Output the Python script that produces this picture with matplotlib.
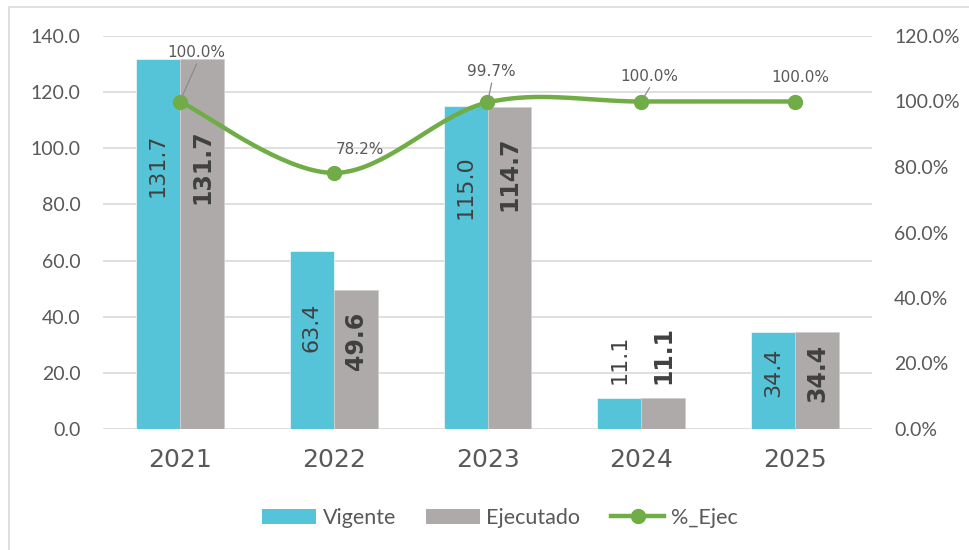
import numpy as np
import matplotlib
matplotlib.use("Agg")
import matplotlib.pyplot as plt
from matplotlib.patches import Rectangle, Patch
from matplotlib.lines import Line2D
from matplotlib.ticker import FuncFormatter, MultipleLocator

# ---- data ----
years = ["2021", "2022", "2023", "2024", "2025"]
vigente = [131.7, 63.4, 115.0, 11.1, 34.4]
ejecutado = [131.7, 49.6, 114.7, 11.1, 34.4]
pct_ejec = [100.0, 78.2, 99.7, 100.0, 100.0]

# ---- layout (label placement, not data) ----
vig_label_y = [94.0, 36.3, 86.2, 24.8, 20.1]
eje_label_y = [93.3, 31.3, 90.8, 26.4, 19.8]
pct_offsets = [(12, 35), (19, 17), (3, 22), (6, 18), (4, 17)]
pct_leader = [True, False, True, True, False]

C_VIG = "#56C4D8"
C_EJE = "#AEAAAA"
C_LINE = "#70AD47"
C_TXT = "#595959"
C_LBL = "#404040"
C_GRID = "#D9D9D9"

fig = plt.figure(figsize=(9.69, 5.5), dpi=100)
ax = fig.add_axes([103/969, 1-429/550, (872-103)/969, (429-36)/550])
ax2 = ax.twinx()

x = np.arange(len(years))
w = 0.286
ax.bar(x - w/2, vigente, w, color=C_VIG, edgecolor="#E8F6F9", linewidth=0.6, zorder=2)
ax.bar(x + w/2, ejecutado, w, color=C_EJE, edgecolor="#D0CECE", linewidth=0.6, zorder=2)

ax.set_xlim(-0.5, len(years) - 0.5)
ax.set_ylim(0, 140)
ax.yaxis.set_major_locator(MultipleLocator(20))
ax.yaxis.set_major_formatter(FuncFormatter(lambda v, p: f"{v:.1f}"))
ax.grid(axis="y", color=C_GRID, linewidth=1.2, zorder=0)
ax.set_axisbelow(True)
for s in ax.spines.values():
    s.set_visible(False)
for s in ax2.spines.values():
    s.set_visible(False)
ax.tick_params(axis="both", length=0)
ax.tick_params(axis="y", labelsize=14, labelcolor=C_TXT, pad=16)
ax.set_xticks(x)
ax.set_xticklabels(years, fontsize=18, color=C_TXT, family="DejaVu Sans")
ax.tick_params(axis="x", pad=14)
for lab in ax.get_yticklabels():
    lab.set_family("Lato")

# bar labels
for i in range(len(years)):
    ax.text(x[i] - w/2, vig_label_y[i], f"{vigente[i]:.1f}", rotation=90,
            ha="center", va="center", fontsize=16, color=C_LBL, zorder=5)
    ax.text(x[i] + w/2, eje_label_y[i], f"{ejecutado[i]:.1f}", rotation=90,
            ha="center", va="center", fontsize=17, fontweight="bold", color=C_LBL, zorder=5)

# smooth line (Excel-like Catmull-Rom / Bezier)
ax2.set_ylim(0, 120)
ax2.yaxis.set_major_locator(MultipleLocator(20))
ax2.yaxis.set_major_formatter(FuncFormatter(lambda v, p: f"{v:.1f}%"))
ax2.tick_params(axis="y", length=0, labelsize=14, labelcolor=C_TXT, pad=16)
for lab in ax2.get_yticklabels():
    lab.set_family("Lato")

px = x.astype(float)
py = np.array(pct_ejec, dtype=float)
n = len(px)
xs, ys = [], []
t = np.linspace(0, 1, 40)
for i in range(n - 1):
    p0 = np.array([px[max(i-1, 0)], py[max(i-1, 0)]])
    p1 = np.array([px[i], py[i]])
    p2 = np.array([px[i+1], py[i+1]])
    p3 = np.array([px[min(i+2, n-1)], py[min(i+2, n-1)]])
    c1 = p1 + (p2 - p0) / 6.0
    c2 = p2 - (p3 - p1) / 6.0
    b = ((1-t)**3)[:, None]*p1 + (3*(1-t)**2*t)[:, None]*c1 + (3*(1-t)*t**2)[:, None]*c2 + (t**3)[:, None]*p2
    xs.extend(b[:, 0]); ys.extend(b[:, 1])
ax2.plot(xs, ys, color=C_LINE, linewidth=3.2, solid_capstyle="round", zorder=3)
ax2.plot(px, py, "o", color=C_LINE, markersize=10, zorder=4)

for i in range(n):
    ax2.annotate(f"{pct_ejec[i]:.1f}%", (px[i], py[i]), xytext=pct_offsets[i],
                 textcoords="offset points", ha="center", va="center",
                 fontsize=11, color=C_TXT, zorder=6)
    if pct_leader[i]:
        ax2.annotate("", xy=(px[i], py[i]), xytext=(pct_offsets[i][0], pct_offsets[i][1] - 8),
                     textcoords="offset points",
                     arrowprops=dict(arrowstyle="-", color="#8C8C8C", lw=0.9,
                                     shrinkA=0, shrinkB=3),
                     zorder=6)

# legend
handles = [Patch(facecolor=C_VIG, edgecolor="none", label="Vigente"),
           Patch(facecolor=C_EJE, edgecolor="none", label="Ejecutado"),
           Line2D([0], [0], color=C_LINE, lw=3.2, marker="o", markersize=10, label="%_Ejec")]
leg = fig.legend(handles=handles, loc="center", bbox_to_anchor=(0.516, 1-518/550), ncol=3,
                 frameon=False, prop={"family": "Lato", "size": 15.5}, handlelength=2.5,
                 handleheight=0.7, handletextpad=0.3, columnspacing=1.4)
for tx in leg.get_texts():
    tx.set_color(C_TXT)

# chart frame
fig.patches.append(Rectangle((9/969, -0.1), 1.2, 1.1 - 7/550, transform=fig.transFigure,
                             fill=False, edgecolor=C_GRID, linewidth=1.2, clip_on=False))

fig.savefig("out.png", dpi=100)
